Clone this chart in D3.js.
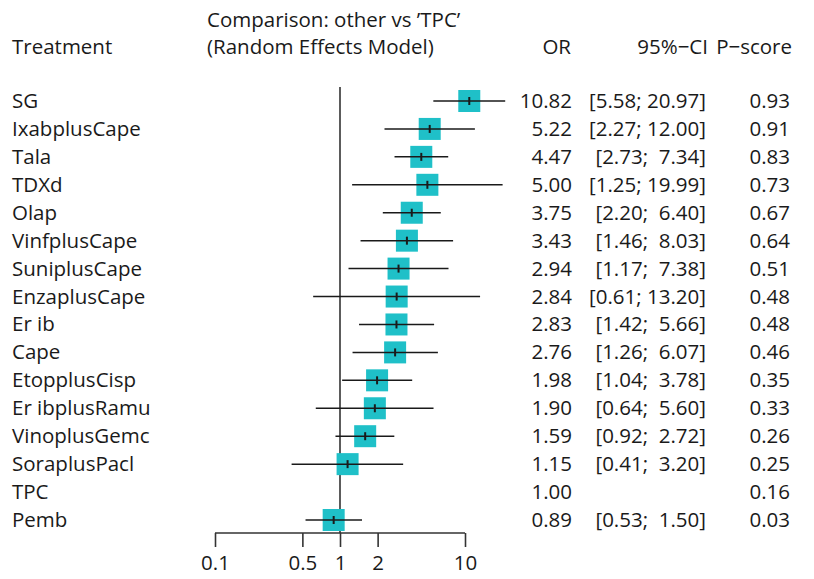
<!doctype html>
<html>
<head>
<meta charset="utf-8">
<title>Forest plot: other vs TPC</title>
<style>
  body { margin: 0; background: #fff; }
  text { font-family: "Open Sans", "Noto Sans", sans-serif; font-size: 20.5px; fill: #1a1a1a; }
  .ci { white-space: pre; }
</style>
</head>
<body>
<div id="plot"></div>
<script src="https://d3js.org/d3.v7.min.js"></script>
<script>
// data
var treatments = ["SG", "IxabplusCape", "Tala", "TDXd", "Olap", "VinfplusCape", "SuniplusCape",
  "EnzaplusCape", "Er ib", "Cape", "EtopplusCisp", "Er ibplusRamu", "VinoplusGemc",
  "SoraplusPacl", "TPC", "Pemb"];
var or    = [10.82, 5.22, 4.47, 5.00, 3.75, 3.43, 2.94, 2.84, 2.83, 2.76, 1.98, 1.90, 1.59, 1.15, 1.00, 0.89];
var lower = [5.58, 2.27, 2.73, 1.25, 2.20, 1.46, 1.17, 0.61, 1.42, 1.26, 1.04, 0.64, 0.92, 0.41, null, 0.53];
var upper = [20.97, 12.00, 7.34, 19.99, 6.40, 8.03, 7.38, 13.20, 5.66, 6.07, 3.78, 5.60, 2.72, 3.20, null, 1.50];
var pscore = [0.93, 0.91, 0.83, 0.73, 0.67, 0.64, 0.51, 0.48, 0.48, 0.46, 0.35, 0.33, 0.26, 0.25, 0.16, 0.03];
var tickValues = [0.1, 0.5, 1, 2, 10];

var width = 814, height = 579;

var x = d3.scaleLog().domain([0.1, 10]).range([215, 465]);
var y = d3.scalePoint().domain(treatments).range([101, 520]);

var svg = d3.select("#plot").append("svg")
  .attr("width", width)
  .attr("height", height);

// headers
svg.append("text").attr("x", 12).attr("y", 54).text("Treatment");
svg.append("text").attr("x", 207).attr("y", 27).text("Comparison: other vs \u2019TPC\u2019");
svg.append("text").attr("x", 207).attr("y", 54).text("(Random Effects Model)");
svg.append("text").attr("x", 571).attr("y", 54).attr("text-anchor", "end").text("OR");
svg.append("text").attr("x", 708).attr("y", 54).attr("text-anchor", "end").text("95%\u2212CI");
svg.append("text").attr("x", 792).attr("y", 54).attr("text-anchor", "end").text("P\u2212score");

// reference line at OR = 1
svg.append("line")
  .attr("x1", x(1)).attr("x2", x(1))
  .attr("y1", 87).attr("y2", 533)
  .attr("stroke", "#333").attr("stroke-width", 1.6);

// axis
var axis = svg.append("g")
  .attr("transform", "translate(0,533)")
  .call(d3.axisBottom(x).tickValues(tickValues).tickFormat(d3.format("")).tickSize(14).tickSizeOuter(0));
axis.select(".domain").attr("stroke", "#333").attr("stroke-width", 1.6).attr("d", "M" + x(0.1) + ",0H" + x(10));
axis.selectAll(".tick line").attr("stroke", "#333").attr("stroke-width", 1.6);
axis.selectAll(".tick text").attr("dy", null).attr("y", 37)
  .style("font-family", "'Open Sans', 'Noto Sans', sans-serif").style("font-size", "20.5px").attr("fill", "#1a1a1a");

var rows = treatments.map(function (t, i) {
  return { name: t, or: or[i], lo: lower[i], hi: upper[i], p: pscore[i] };
});

var row = svg.selectAll(".row").data(rows).enter().append("g")
  .attr("class", "row")
  .attr("transform", function (d) { return "translate(0," + y(d.name) + ")"; });

row.append("text").attr("x", 12).attr("y", 7).text(function (d) { return d.name; });

// squares first, then CI lines over them
var sq = 22;
row.filter(function (d) { return d.lo !== null; }).append("rect")
  .attr("x", function (d) { return x(d.or) - sq / 2; })
  .attr("y", -sq / 2)
  .attr("width", sq).attr("height", sq)
  .attr("fill", "#1fc0c8");

row.filter(function (d) { return d.lo !== null; }).append("line")
  .attr("x1", function (d) { return x(d.lo); })
  .attr("x2", function (d) { return x(d.hi); })
  .attr("stroke", "#1a1a1a").attr("stroke-width", 1.5);

row.filter(function (d) { return d.lo !== null; }).append("line")
  .attr("x1", function (d) { return x(d.or); })
  .attr("x2", function (d) { return x(d.or); })
  .attr("y1", -4).attr("y2", 4)
  .attr("stroke", "#1a1a1a").attr("stroke-width", 2);

var f2 = d3.format(".2f");
row.append("text").attr("x", 572).attr("y", 7).attr("text-anchor", "end")
  .text(function (d) { return f2(d.or); });

row.filter(function (d) { return d.lo !== null; }).append("text")
  .attr("class", "ci").attr("x", 706).attr("y", 7).attr("text-anchor", "end")
  .text(function (d) {
    var h = f2(d.hi);
    return "[" + f2(d.lo) + "; " + (h.length < 5 ? " " : "") + h + "]";
  });

row.append("text").attr("x", 790).attr("y", 7).attr("text-anchor", "end")
  .text(function (d) { return f2(d.p); });
</script>
</body>
</html>
